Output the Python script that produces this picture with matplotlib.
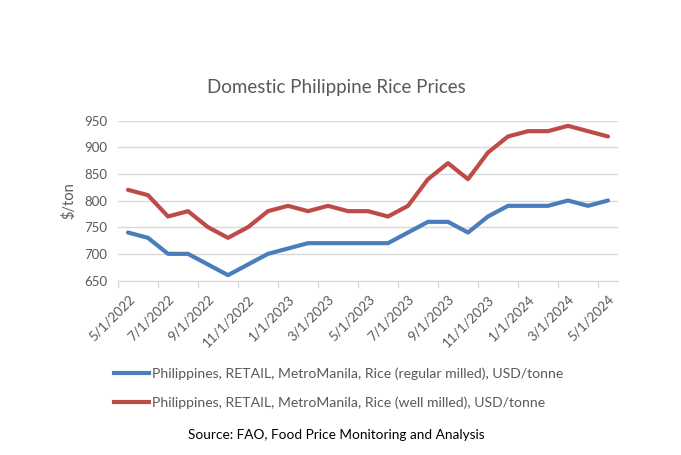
import matplotlib
matplotlib.use("Agg")
import matplotlib.pyplot as plt
import numpy as np

dates = ["5/1/2022", "6/1/2022", "7/1/2022", "8/1/2022", "9/1/2022", "10/1/2022",
         "11/1/2022", "12/1/2022", "1/1/2023", "2/1/2023", "3/1/2023", "4/1/2023",
         "5/1/2023", "6/1/2023", "7/1/2023", "8/1/2023", "9/1/2023", "10/1/2023",
         "11/1/2023", "12/1/2023", "1/1/2024", "2/1/2024", "3/1/2024", "4/1/2024",
         "5/1/2024"]
regular = [740, 730, 700, 700, 680, 660, 680, 700, 710, 720, 720, 720, 720, 720,
           740, 760, 760, 740, 770, 790, 790, 790, 800, 790, 800]
well = [820, 810, 770, 780, 750, 730, 750, 780, 790, 780, 790, 780, 780, 770,
        790, 840, 870, 840, 890, 920, 930, 930, 940, 930, 920]
label_regular = "Philippines, RETAIL, MetroManila, Rice (regular milled), USD/tonne"
label_well = "Philippines, RETAIL, MetroManila, Rice (well milled), USD/tonne"
yticks = [650, 700, 750, 800, 850, 900, 950]

plt.rcParams['font.family'] = ['Lato', 'DejaVu Sans']
gray = "#595959"

fig = plt.figure(figsize=(6.81, 4.55), dpi=100)
ax = fig.add_axes([118/681, 1-280.5/455, 500/681, 160/455])

x = np.arange(len(dates))
ax.plot(x, regular, color="#4a7ebb", lw=3, solid_capstyle='round', solid_joinstyle='round', label=label_regular)
ax.plot(x, well, color="#be4b48", lw=3, solid_capstyle='round', solid_joinstyle='round', label=label_well)

ax.set_xlim(-0.5, len(dates) - 0.5)
ax.set_ylim(650, 950)
ax.set_yticks(yticks)
ax.yaxis.grid(True, color="#d9d9d9", lw=1)
ax.set_axisbelow(True)
for s in ["top", "right", "left"]:
    ax.spines[s].set_visible(False)
ax.spines["bottom"].set_color("#d9d9d9")
ax.tick_params(axis="y", length=0, labelsize=9.5, labelcolor=gray, pad=8)

ax.set_xticks(x[::2])
ax.set_xticklabels(dates[::2], rotation=45, ha="right", rotation_mode="anchor")
ax.tick_params(axis="x", which="major", length=0, labelsize=9.7, labelcolor=gray, pad=9)
ax.set_xticks(np.arange(-0.5, len(dates), 2), minor=True)
ax.tick_params(axis="x", which="minor", length=5, color="#d9d9d9", width=1)

ax.set_ylabel("$/ton", fontsize=10.5, color=gray, labelpad=6)

fig.text(336/681, 1-88/455, "Domestic Philippine Rice Prices", ha="center", va="center",
         fontsize=13.5, color=gray)

h1, = ax.plot([], [], color="#4a7ebb", lw=3)
h2, = ax.plot([], [], color="#be4b48", lw=3)
fig.legend([h1, h2], [label_regular, label_well], loc="upper left",
           bbox_to_anchor=(101/681, 1-355/455), frameon=False, fontsize=10.1,
           handlelength=2.5, handletextpad=0.2, labelspacing=1.15, labelcolor=gray)

fig.text(336/681, 1-435/455, "Source: FAO, Food Price Monitoring and Analysis",
         ha="center", va="center", fontsize=9.8, color="black")

fig.savefig("out.png", dpi=100)
